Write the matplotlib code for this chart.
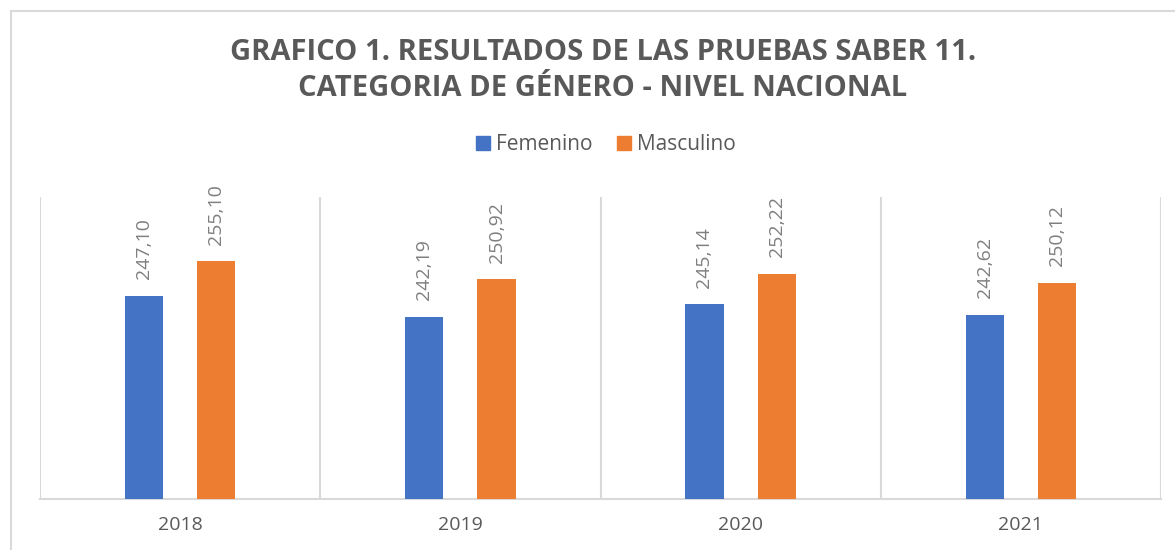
import matplotlib.pyplot as plt
import matplotlib.patches as mpatches
import numpy as np

years = ["2018", "2019", "2020", "2021"]
femenino = [247.10, 242.19, 245.14, 242.62]
masculino = [255.10, 250.92, 252.22, 250.12]
series_names = ["Femenino", "Masculino"]
title_lines = ["GRAFICO 1. RESULTADOS DE LAS PRUEBAS SABER 11.",
               "CATEGORIA DE GÉNERO - NIVEL NACIONAL"]

BLUE = "#4472C4"
ORANGE = "#ED7D31"
GRID = "#D9D9D9"
TXT = "#595959"
FONT = "Open Sans"

fig = plt.figure(figsize=(11.75, 5.5), dpi=100)
W, H = 1175, 550
# plot area in pixels: left 40, right 1161, top 197, bottom 499
ax = fig.add_axes([40 / W, 1 - 499 / H, (1161 - 40) / W, (499 - 197) / H])

x = np.arange(len(years))
bw = 0.136
off = 0.129
b1 = ax.bar(x - off, femenino, bw, color=BLUE, label=series_names[0], zorder=3)
b2 = ax.bar(x + off, masculino, bw, color=ORANGE, label=series_names[1], zorder=3)

ax.set_xlim(-0.5, len(years) - 0.5)
ax.set_ylim(200, 270)

for bars, vals in ((b1, femenino), (b2, masculino)):
    for rect, v in zip(bars, vals):
        ax.annotate(f"{v:.2f}".replace(".", ","),
                    xy=(rect.get_x() + rect.get_width() / 2, v),
                    xytext=(0, 12), textcoords="offset points",
                    rotation=90, ha="center", va="bottom",
                    fontsize=14, color="#7F7F7F", family=FONT)

# category separators
for b in np.arange(-0.5, len(years), 1.0):
    ax.axvline(b, color=GRID, lw=1.5, zorder=1)

for s in ["top", "right", "left"]:
    ax.spines[s].set_visible(False)
ax.spines["bottom"].set_color(GRID)
ax.spines["bottom"].set_linewidth(1.5)
ax.set_yticks([])
ax.set_xticks(x)
ax.set_xticklabels(years, family=FONT, fontsize=14, color=TXT)
ax.tick_params(axis="x", length=0, pad=12)

# title
fig.text(603 / W, 1 - 53 / H, title_lines[0], ha="center", va="center",
         fontsize=21, fontweight="bold", color=TXT, family=FONT)
fig.text(603 / W, 1 - 88 / H, title_lines[1], ha="center", va="center",
         fontsize=21, fontweight="bold", color=TXT, family=FONT)

handles = [mpatches.Patch(color=BLUE), mpatches.Patch(color=ORANGE)]
leg = fig.legend(handles, series_names, loc="center", bbox_to_anchor=(606 / W, 1 - 145 / H),
                 ncol=2, frameon=False, handlelength=0.68, handleheight=0.68,
                 handletextpad=0.3, columnspacing=1.15,
                 prop={"family": FONT, "size": 15})
for t in leg.get_texts():
    t.set_color(TXT)

# outer chart border (left and top visible)
fig.add_artist(plt.Line2D([11 / W, 11 / W], [0, 1 - 11 / H], transform=fig.transFigure,
                          color=GRID, lw=1.5))
fig.add_artist(plt.Line2D([11 / W, 1], [1 - 11 / H, 1 - 11 / H], transform=fig.transFigure,
                          color=GRID, lw=1.5))

fig.savefig("out.png", dpi=100)
